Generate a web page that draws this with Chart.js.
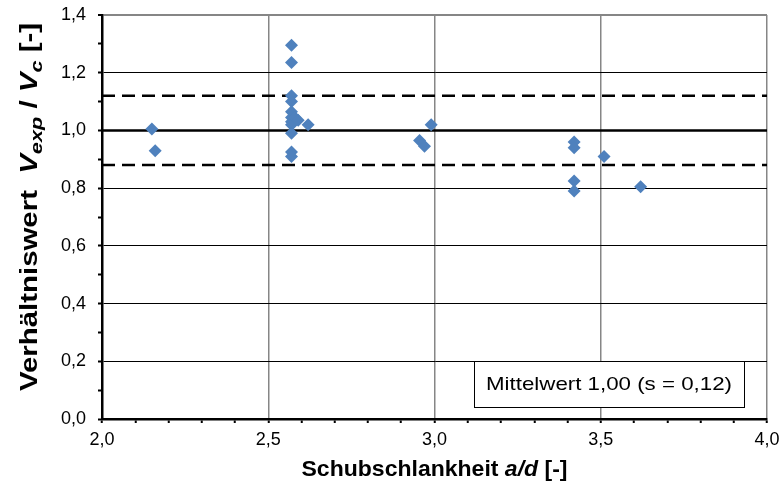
<!DOCTYPE html>
<html>
<head>
<meta charset="utf-8">
<script src="https://cdn.jsdelivr.net/npm/chart.js@4.4.0/dist/chart.umd.min.js"></script>
<style>
  html, body { margin: 0; padding: 0; background: #fff; }
  #wrap { width: 783px; height: 491px; }
</style>
</head>
<body>
<div id="wrap"><canvas id="chart"></canvas></div>
<script>
// Schubschlankheit a/d and Verhältniswert V_exp / V_c
const slenderness = [2.15, 2.16, 2.57, 2.57, 2.57, 2.57, 2.57, 2.57, 2.57, 2.57, 2.57, 2.57, 2.57,
  2.58, 2.59, 2.62, 2.955, 2.97, 2.99, 3.42, 3.42, 3.51, 3.42, 3.42, 3.62];
const ratio = [1.005, 0.93, 1.295, 1.235, 1.12, 1.10, 1.065, 1.045, 1.03, 1.02, 0.99, 0.925, 0.91,
  1.045, 1.035, 1.02, 0.965, 0.945, 1.02, 0.96, 0.94, 0.91, 0.825, 0.79, 0.805];

const meanValue = 1.00;
const stdDev = 0.12;

// labelled ticks
const xTickLabels = [2.0, 2.5, 3.0, 3.5, 4.0];
const yTickLabels = [0.0, 0.2, 0.4, 0.6, 0.8, 1.0, 1.2, 1.4];

const FONT = "'Liberation Sans', Arial, sans-serif";
const fmt = (v, d) => v.toFixed(d).replace('.', ',');
const inList = (list, v) => list.some(t => Math.abs(t - v) < 1e-6);

const points = slenderness.map((x, i) => ({ x: x, y: ratio[i] }));
const xMin = xTickLabels[0];
const xMax = xTickLabels[xTickLabels.length - 1];
const hLine = (y) => [{ x: xMin, y: y }, { x: xMax, y: y }];

// draws text runs with mixed fonts, centred on (x, y), stretched to a given width
function drawRuns(ctx, runs, x, y, width) {
  let total = 0;
  runs.forEach(r => { ctx.font = r.font; total += ctx.measureText(r.text).width; });
  ctx.save();
  ctx.translate(x - width / 2, y);
  ctx.scale(width / total, 1);
  let cx = 0;
  runs.forEach(r => {
    ctx.font = r.font;
    ctx.fillText(r.text, cx, r.dy || 0);
    cx += ctx.measureText(r.text).width;
  });
  ctx.restore();
}

const extras = {
  id: 'extras',
  afterDraw(chart) {
    const { ctx, chartArea: a } = chart;
    ctx.save();
    ctx.fillStyle = '#000';
    ctx.textAlign = 'left';
    ctx.textBaseline = 'middle';

    // x axis title
    const b = 'bold 22px ' + FONT;
    const bi = 'italic bold 22px ' + FONT;
    drawRuns(ctx, [
      { text: 'Schubschlankheit ', font: b },
      { text: 'a/d', font: bi },
      { text: ' [-]', font: b }
    ], (a.left + a.right) / 2, 470, 266);

    // y axis title, rotated
    const yb = 'bold 23px ' + FONT;
    const ybi = 'italic bold 23px ' + FONT;
    const sub = 'italic bold 17px ' + FONT;
    ctx.translate(31, 207);
    ctx.rotate(-Math.PI / 2);
    drawRuns(ctx, [
      { text: 'Verhältniswert  ', font: yb },
      { text: 'V', font: ybi },
      { text: 'exp', font: sub, dy: 6 },
      { text: ' / ', font: yb },
      { text: 'V', font: ybi },
      { text: 'c', font: sub, dy: 6 },
      { text: ' [-]', font: yb }
    ], 0, 0, 368);
    ctx.restore();

    // legend box
    ctx.save();
    const bw = 270, bh = 46;
    const bx = a.right - 23 - bw;
    const by = a.bottom - 12 - bh;
    ctx.fillStyle = '#fff';
    ctx.fillRect(bx, by, bw, bh);
    ctx.strokeStyle = '#000';
    ctx.lineWidth = 1;
    ctx.strokeRect(bx + 0.5, by + 0.5, bw, bh);
    ctx.fillStyle = '#000';
    ctx.textBaseline = 'middle';
    ctx.textAlign = 'left';
    drawRuns(ctx, [
      { text: 'Mittelwert ' + fmt(meanValue, 2) + ' (s = ' + fmt(stdDev, 2) + ')', font: '19px ' + FONT }
    ], bx + bw / 2, by + bh / 2 + 1, 246);
    ctx.restore();
  }
};

new Chart(document.getElementById('chart'), {
  type: 'scatter',
  data: {
    datasets: [{
      label: 'Versuche',
      data: points,
      pointStyle: 'rectRot',
      pointRadius: 6.5,
      pointHoverRadius: 6.5,
      backgroundColor: '#4f81bd',
      borderColor: '#4f81bd',
      borderWidth: 0
    }, {
      type: 'line',
      label: 'Mittelwert',
      data: hLine(meanValue),
      borderColor: '#000',
      borderWidth: 2.5,
      pointRadius: 0
    }, {
      type: 'line',
      label: 'Mittelwert + s',
      data: hLine(meanValue + stdDev),
      borderColor: '#000',
      borderWidth: 2.5,
      borderDash: [13, 7],
      pointRadius: 0
    }, {
      type: 'line',
      label: 'Mittelwert - s',
      data: hLine(meanValue - stdDev),
      borderColor: '#000',
      borderWidth: 2.5,
      borderDash: [13, 7],
      pointRadius: 0
    }]
  },
  options: {
    responsive: true,
    maintainAspectRatio: false,
    animation: false,
    layout: { padding: { top: 15, right: 16, left: 0, bottom: 0 } },
    plugins: {
      legend: { display: false },
      tooltip: { enabled: false }
    },
    scales: {
      x: {
        type: 'linear',
        min: xMin,
        max: xMax,
        afterFit: (s) => { s.height = 72; s.paddingLeft = 0; s.paddingRight = 0; },
        ticks: {
          stepSize: 0.1,
          autoSkip: false,
          maxRotation: 0,
          padding: 6,
          color: '#000',
          font: { family: FONT, size: 18 },
          callback: (v) => inList(xTickLabels, v) ? fmt(v, 1) : ''
        },
        grid: {
          color: (c) => (c.tick && inList(xTickLabels, c.tick.value) && c.tick.value > xMin) ? '#868686' : 'rgba(0,0,0,0)',
          lineWidth: 1.5,
          tickColor: '#000',
          tickLength: 4,
          tickWidth: 2
        },
        border: { color: '#000', width: 2.5 }
      },
      y: {
        min: 0,
        max: 1.4,
        afterFit: (s) => { s.width = 102; s.paddingTop = 0; s.paddingBottom = 0; },
        ticks: {
          stepSize: 0.1,
          autoSkip: false,
          padding: 12,
          color: '#000',
          font: { family: FONT, size: 18 },
          callback: (v) => inList(yTickLabels, v) ? fmt(v, 1) : ''
        },
        grid: {
          color: (c) => {
            if (!c.tick || !inList(yTickLabels, c.tick.value) || c.tick.value === 0) return 'rgba(0,0,0,0)';
            return c.tick.value > 1.35 ? '#868686' : '#000';
          },
          lineWidth: (c) => (c.tick && c.tick.value > 1.35) ? 2 : 1,
          tickColor: '#000',
          tickLength: 4,
          tickWidth: 2
        },
        border: { color: '#000', width: 2.5 }
      }
    }
  },
  plugins: [extras]
});
</script>
</body>
</html>
